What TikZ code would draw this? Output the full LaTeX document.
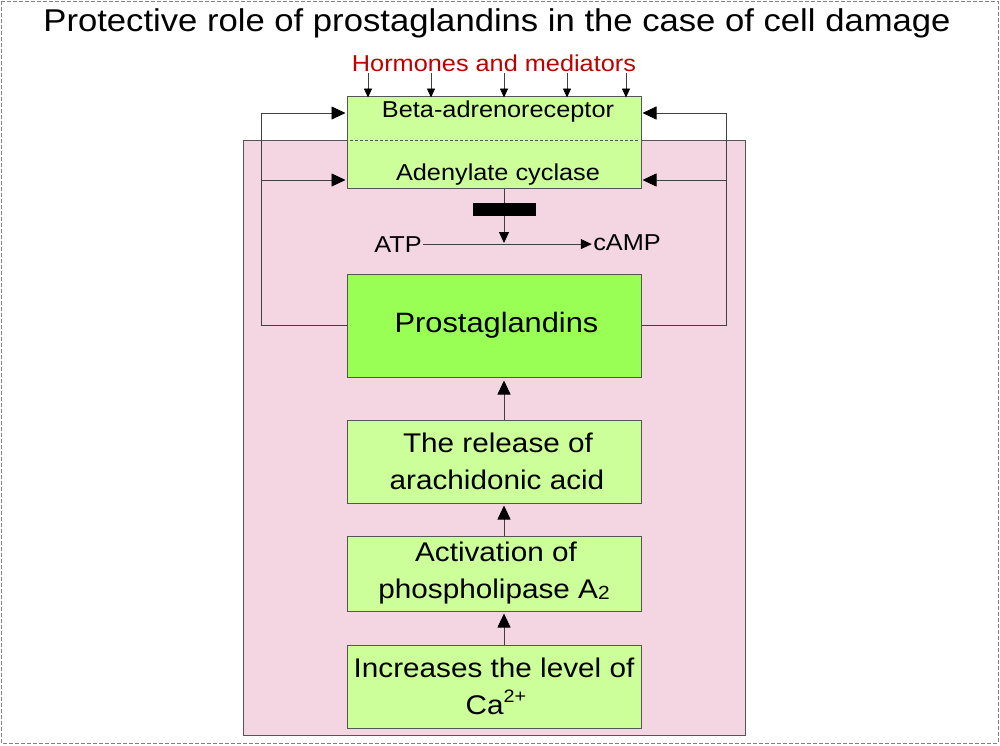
\documentclass[tikz,border=0pt]{standalone}
\usepackage{fontspec}
\setmainfont{Liberation Sans}[FakeStretch=1.1]
\usepackage{xcolor}
\usetikzlibrary{arrows.meta}

\definecolor{pinkbg}{HTML}{F4D6E3}
\definecolor{lightgreen}{HTML}{CCFF99}
\definecolor{brightgreen}{HTML}{99FF55}
\definecolor{boxline}{HTML}{555555}
\definecolor{hormred}{HTML}{C00000}

\tikzset{
	greenbox/.style={draw=boxline, fill=lightgreen, minimum width=294pt, inner sep=0pt, align=center, font=\fontsize{27}{37}\selectfont},
	bigtip/.style={-{Triangle[length=14pt,width=13pt,black]}, draw=black!75},
	midtip/.style={-{Triangle[length=11pt,width=10pt,black]}, draw=black!75},
	smalltip/.style={-{Triangle[length=9pt,width=8pt,black]}, draw=black!75},
	feedline/.style={draw=black!75, line width=0.8pt},
}

\begin{document}
\begin{tikzpicture}[x=1pt, y=-1pt, line width=1pt]
		\useasboundingbox (0,0) rectangle (1000,745);

		% Frame
		\draw[gray, dash pattern=on 4pt off 2pt] (1,1) rectangle (998,743);

		% Title
		\node[anchor=base, font=\fontsize{31.5}{36}\selectfont] (title) at (497,31) {Protective role of prostaglandins in the case of cell damage};
		\node[anchor=base, text=hormred, font=\fontsize{23}{26}\selectfont] (hormones) at (494,71) {Hormones and mediators};

		% Cell
		\draw[draw=boxline, fill=pinkbg] (243,140) rectangle (745,735);

		% Receptor and cyclase
		\node[greenbox, minimum height=92pt] (acbox) at (494,142) {};
		\draw[boxline, line width=0.6pt, dash pattern=on 3pt off 2pt] (350,140) -- (638,140);
		\node[anchor=base, font=\fontsize{23}{26}\selectfont] (beta) at (498,117) {Beta-adrenoreceptor};
		\node[anchor=base, font=\fontsize{23}{26}\selectfont] (cyclase) at (498,180) {Adenylate cyclase};

		% Hormone arrows
		\foreach \x in {368,431,504,567,626} {
			\coordinate (h\x) at (\x,73);
			\draw[smalltip, line width=0.8pt] (h\x) -- ([yshift=-2pt]h\x |- acbox.north);
		}

		% ATP -> cAMP
		\node[anchor=base, inner sep=1pt, font=\fontsize{23}{26}\selectfont] (atp) at (398,252) {ATP};
		\node[anchor=base, inner sep=1pt, font=\fontsize{23}{26}\selectfont] (camp) at (627,250) {cAMP};
		\draw[midtip, line width=0.8pt] (atp.east) -- (atp.east -| camp.west);
		\coordinate (junction) at (504,243);
		\draw[midtip, line width=0.8pt] (acbox.south -| junction) -- (junction);
		\fill (473,203) rectangle (536,216);

		% Cascade
		\node[greenbox, fill=brightgreen, minimum height=103pt, font=\fontsize{28}{34}\selectfont] (prost) at (494,325.5) {\hspace*{5pt}Prostaglandins};
		\node[greenbox, minimum height=83pt] (release) at (494,461.5) {\hspace*{8pt}The release of\\\hspace*{6pt}arachidonic acid};
		\node[greenbox, minimum height=75pt] (activ) at (494,573.5) {\hspace*{4pt}Activation of\\phospholipase A\raisebox{-1pt}{\fontsize{19}{19}\selectfont 2}};
		\node[greenbox, minimum height=83pt] (calcium) at (494,686.5) {Increases the level of\\\hspace*{4pt}Ca\raisebox{12pt}{\fontsize{18}{18}\selectfont 2+}};

		\draw[bigtip, line width=0.8pt, shorten >=3pt] (release.north -| junction) -- (prost.south -| junction);
		\draw[bigtip, line width=0.8pt, shorten >=2pt] (activ.north -| junction) -- (release.south -| junction);
		\draw[bigtip, line width=0.8pt, shorten >=2pt] (calcium.north -| junction) -- (activ.south -| junction);

		% Feedback
		\coordinate (ltop) at (261,113);
		\coordinate (lmid) at (261,180);
		\coordinate (rtop) at (726,113);
		\coordinate (rmid) at (726,180);
		\draw[feedline, bigtip] (prost.west) -| (ltop) -- ([xshift=-1pt]ltop -| acbox.west);
		\draw[feedline, bigtip] (lmid) -- ([xshift=-1pt]lmid -| acbox.west);
		\draw[feedline, bigtip] (prost.east) -| (rtop) -- ([xshift=1pt]rtop -| acbox.east);
		\draw[feedline, bigtip] (rmid) -- ([xshift=1pt]rmid -| acbox.east);
	\end{tikzpicture}
\end{document}
